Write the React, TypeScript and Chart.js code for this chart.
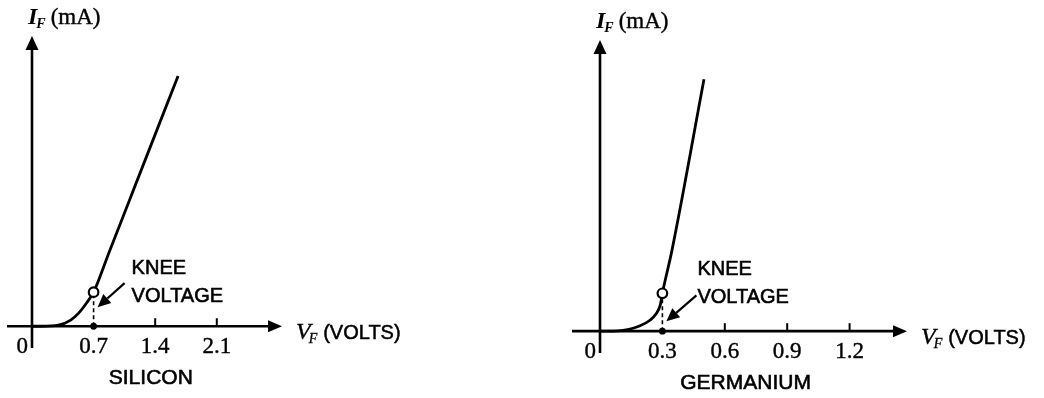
import React, { useEffect, useRef } from "react";
import { Chart, registerables } from "chart.js";

Chart.register(...registerables);

// ---------- DATA ----------
const siliconVolts = [0, 0.1, 0.3, 0.44, 0.53, 0.62, 0.7, 0.87, 1.16, 1.66];
const siliconMilliamps = [0, 0, 0.15, 0.85, 1.8, 3.2, 4.7, 10.0, 19.0, 34.5];
const siliconTicks = [0.7, 1.4, 2.1];
const siliconTickLabels = ["0.7", "1.4", "2.1"];
const siliconKneeVolts = 0.7;
const siliconKneeMilliamps = 4.7;
const siliconTitle = "SILICON";

const germaniumVolts = [0, 0.06, 0.11, 0.19, 0.24, 0.27, 0.29, 0.3, 0.346, 0.5];
const germaniumMilliamps = [0, 0, 0.1, 0.7, 1.5, 2.4, 3.6, 5.2, 11.1, 34.6];
const germaniumTicks = [0.3, 0.6, 0.9, 1.2];
const germaniumTickLabels = ["0.3", "0.6", "0.9", "1.2"];
const germaniumKneeVolts = 0.3;
const germaniumKneeMilliamps = 5.2;
const germaniumTitle = "GERMANIUM";

const zeroLabel = "0";
const yAxisSymbol = "I";
const yAxisSub = "F";
const yAxisUnit = "(mA)";
const xAxisSymbol = "V";
const xAxisSub = "F";
const xAxisUnit = "(VOLTS)";
const kneeLine1 = "KNEE";
const kneeLine2 = "VOLTAGE";

const SERIF = '"Liberation Serif", "Times New Roman", serif';
const SANS = '"Liberation Sans", Arial, Helvetica, sans-serif';

type PanelCfg = {
  volts: number[];
  amps: number[];
  ticks: number[];
  tickLabels: string[];
  kneeV: number;
  kneeI: number;
  title: string;
  titleV: number;
  xMin: number;
  xMax: number;
  yMin: number;
  yMax: number;
  padding: { left: number; right: number; top: number; bottom: number };
  kneeTextDx: number;
  arrowFrom: [number, number];
  arrowTo: [number, number];
};

function drawArrowHead(ctx: CanvasRenderingContext2D, x1: number, y1: number, x2: number, y2: number, len: number, halfW: number) {
  const a = Math.atan2(y2 - y1, x2 - x1);
  const bx = x2 - len * Math.cos(a);
  const by = y2 - len * Math.sin(a);
  ctx.beginPath();
  ctx.moveTo(x2, y2);
  ctx.lineTo(bx + halfW * Math.sin(a), by - halfW * Math.cos(a));
  ctx.lineTo(bx - halfW * Math.sin(a), by + halfW * Math.cos(a));
  ctx.closePath();
  ctx.fill();
  return [bx, by];
}

function boldText(ctx: CanvasRenderingContext2D, s: string, x: number, y: number, w = 0.6) {
  ctx.fillText(s, x, y);
  ctx.lineWidth = w;
  ctx.strokeText(s, x, y);
}

function makePlugin(cfg: PanelCfg) {
  return {
    id: "diodeAxes",
    beforeDatasetsDraw(chart: any) {
      const ctx: CanvasRenderingContext2D = chart.ctx;
      const xs = chart.scales.x;
      const ys = chart.scales.y;
      const area = chart.chartArea;
      const x0 = xs.getPixelForValue(0);
      const y0 = ys.getPixelForValue(0);
      ctx.save();
      ctx.strokeStyle = "#000";
      ctx.fillStyle = "#000";
      ctx.lineCap = "butt";
      // x axis
      ctx.lineWidth = 2.6;
      ctx.beginPath();
      ctx.moveTo(area.left, y0);
      ctx.lineTo(area.right - 10, y0);
      ctx.stroke();
      drawArrowHead(ctx, area.left, y0, area.right, y0, 14, 6);
      // y axis
      ctx.beginPath();
      ctx.moveTo(x0, area.bottom);
      ctx.lineTo(x0, area.top + 10);
      ctx.stroke();
      drawArrowHead(ctx, x0, area.bottom, x0, area.top, 14, 6.5);
      // tick marks
      ctx.lineWidth = 2;
      cfg.ticks.forEach((t) => {
        if (t === cfg.kneeV) return;
        const px = xs.getPixelForValue(t);
        ctx.beginPath();
        ctx.moveTo(px, y0);
        ctx.lineTo(px, y0 - 8);
        ctx.stroke();
      });
      ctx.restore();
    },
    afterDatasetsDraw(chart: any) {
      const ctx: CanvasRenderingContext2D = chart.ctx;
      const xs = chart.scales.x;
      const ys = chart.scales.y;
      const area = chart.chartArea;
      const x0 = xs.getPixelForValue(0);
      const y0 = ys.getPixelForValue(0);
      ctx.save();
      ctx.fillStyle = "#000";
      ctx.strokeStyle = "#000";
      ctx.textBaseline = "alphabetic";
      // tick labels
      ctx.font = `23px ${SERIF}`;
      ctx.textAlign = "center";
      cfg.ticks.forEach((t, i) => {
        boldText(ctx, cfg.tickLabels[i], xs.getPixelForValue(t), y0 + 27, 0.4);
      });
      ctx.textAlign = "right";
      boldText(ctx, zeroLabel, x0 - 4, y0 + 27, 0.4);

      // x axis label V_F (VOLTS)
      ctx.textAlign = "left";
      let lx = area.right + 14;
      ctx.font = `italic 24px ${SERIF}`;
      boldText(ctx, xAxisSymbol, lx, y0 + 13, 0.4);
      lx += ctx.measureText(xAxisSymbol).width - 2;
      ctx.font = `italic 14px ${SERIF}`;
      boldText(ctx, xAxisSub, lx, y0 + 17, 0.3);
      lx += ctx.measureText(xAxisSub).width + 6;
      ctx.font = `20px ${SANS}`;
      boldText(ctx, xAxisUnit, lx, y0 + 13, 0.5);

      // y axis label I_F (mA)
      let ly = area.top - 12;
      let yx = x0 - 4;
      ctx.font = `italic bold 24px ${SERIF}`;
      ctx.fillText(yAxisSymbol, yx, ly);
      yx += ctx.measureText(yAxisSymbol).width - 1;
      ctx.font = `italic bold 14px ${SERIF}`;
      ctx.fillText(yAxisSub, yx, ly + 4);
      yx += ctx.measureText(yAxisSub).width + 5;
      ctx.font = `23px ${SERIF}`;
      boldText(ctx, yAxisUnit, yx, ly, 0.4);

      // knee annotation
      const kx = xs.getPixelForValue(cfg.kneeV);
      const ky = ys.getPixelForValue(cfg.kneeI);
      ctx.font = `20px ${SANS}`;
      boldText(ctx, kneeLine1, kx + cfg.kneeTextDx, ky - 18);
      boldText(ctx, kneeLine2, kx + cfg.kneeTextDx, ky + 10);
      const ax1 = kx + cfg.arrowFrom[0];
      const ay1 = ky + cfg.arrowFrom[1];
      const ax2 = kx + cfg.arrowTo[0];
      const ay2 = ky + cfg.arrowTo[1];
      ctx.lineWidth = 2.2;
      const [bx, by] = drawArrowHead(ctx, ax1, ay1, ax2, ay2, 13, 6);
      ctx.beginPath();
      ctx.moveTo(ax1, ay1);
      ctx.lineTo(bx, by);
      ctx.stroke();

      // panel title
      ctx.textAlign = "center";
      ctx.font = `21px ${SANS}`;
      boldText(ctx, cfg.title, xs.getPixelForValue(cfg.titleV), y0 + 58);
      ctx.restore();
    },
  };
}

function Panel({ cfg, left }: { cfg: PanelCfg; left: number }) {
  const ref = useRef<HTMLCanvasElement | null>(null);
  useEffect(() => {
    if (!ref.current) return;
    const curve = cfg.volts.map((v, i) => ({ x: v, y: cfg.amps[i] }));
    const chart = new Chart(ref.current, {
      type: "scatter",
      data: {
        datasets: [
          {
            data: curve,
            showLine: true,
            borderColor: "#000",
            borderWidth: 2.8,
            pointRadius: 0,
            cubicInterpolationMode: "monotone",
            clip: false,
            order: 4,
          } as any,
          {
            data: [
              { x: cfg.kneeV, y: 0 },
              { x: cfg.kneeV, y: cfg.kneeI },
            ],
            showLine: true,
            borderColor: "#000",
            borderWidth: 1.6,
            borderDash: [4, 3],
            pointRadius: 0,
            order: 3,
          } as any,
          {
            data: [{ x: cfg.kneeV, y: 0 }],
            pointRadius: 3.4,
            pointBackgroundColor: "#000",
            pointBorderColor: "#000",
            pointBorderWidth: 0,
            order: 2,
          } as any,
          {
            data: [{ x: cfg.kneeV, y: cfg.kneeI }],
            pointRadius: 4.8,
            pointBackgroundColor: "#fff",
            pointBorderColor: "#000",
            pointBorderWidth: 2.2,
            order: 1,
          } as any,
        ],
      },
      options: {
        animation: false,
        responsive: false,
        events: [],
        layout: { padding: cfg.padding },
        plugins: { legend: { display: false }, tooltip: { enabled: false }, title: { display: false } },
        scales: {
          x: { type: "linear", min: cfg.xMin, max: cfg.xMax, display: false },
          y: { type: "linear", min: cfg.yMin, max: cfg.yMax, display: false },
        },
      },
      plugins: [makePlugin(cfg)],
    } as any);
    return () => chart.destroy();
  }, [cfg]);
  return (
    <canvas
      ref={ref}
      width={522}
      height={398}
      style={{ position: "absolute", left, top: 0, width: 522, height: 398, display: "block" }}
    />
  );
}

const siliconCfg: PanelCfg = {
  volts: siliconVolts,
  amps: siliconMilliamps,
  ticks: siliconTicks,
  tickLabels: siliconTickLabels,
  kneeV: siliconKneeVolts,
  kneeI: siliconKneeMilliamps,
  title: siliconTitle,
  titleV: 1.35,
  xMin: -0.284,
  xMax: 2.841,
  yMin: -3,
  yMax: 40,
  padding: { left: 7, right: 240, top: 36, bottom: 50 },
  kneeTextDx: 38,
  arrowFrom: [31, -9],
  arrowTo: [4, 15],
};

const germaniumCfg: PanelCfg = {
  volts: germaniumVolts,
  amps: germaniumMilliamps,
  ticks: germaniumTicks,
  tickLabels: germaniumTickLabels,
  kneeV: germaniumKneeVolts,
  kneeI: germaniumKneeMilliamps,
  title: germaniumTitle,
  titleV: 0.7,
  xMin: -0.1346,
  xMax: 1.476,
  yMin: -3,
  yMax: 40,
  padding: { left: 50, right: 137, top: 40, bottom: 45 },
  kneeTextDx: 35,
  arrowFrom: [34, 2],
  arrowTo: [4, 28],
};

export default function App() {
  return (
    <div style={{ position: "absolute", left: 0, top: 0, width: 1044, height: 398, background: "#fff", overflow: "hidden" }}>
      <Panel cfg={siliconCfg} left={0} />
      <Panel cfg={germaniumCfg} left={522} />
    </div>
  );
}
